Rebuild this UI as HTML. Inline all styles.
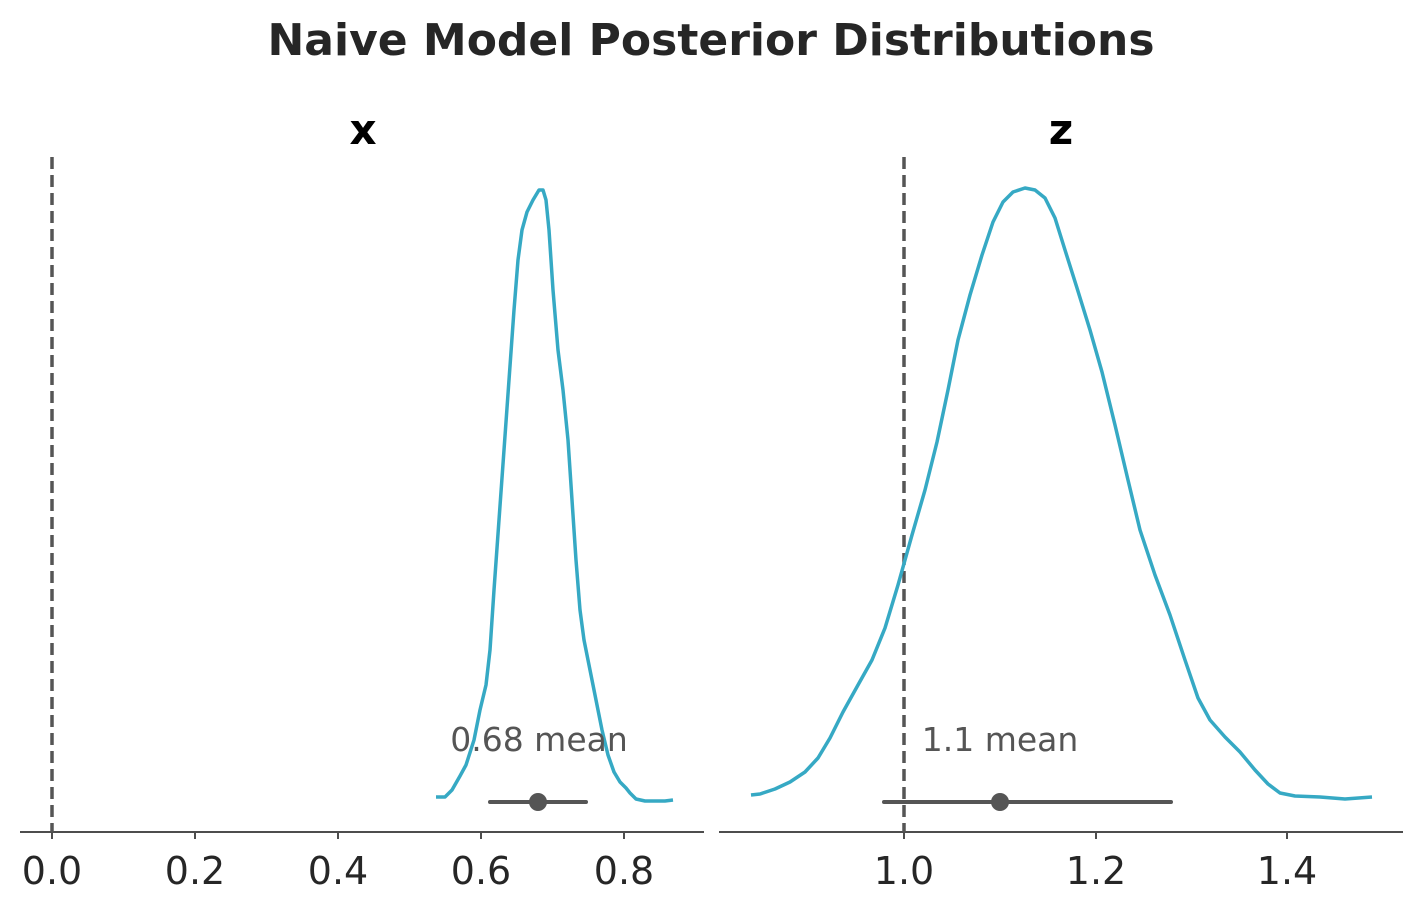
<!DOCTYPE html>
<html><head><meta charset="utf-8"><style>
html,body{margin:0;padding:0;background:#fff;}
svg{display:block;}
text{font-family:"DejaVu Sans","Liberation Sans",sans-serif;}
</style></head><body>
<svg width="1423" height="911" viewBox="0 0 1423 911" xmlns="http://www.w3.org/2000/svg">
<text x="711" y="55" text-anchor="middle" font-size="44" font-weight="bold" fill="#262626">Naive Model Posterior Distributions</text>
<text x="363" y="144" text-anchor="middle" font-size="42" font-weight="bold" fill="#000">x</text>
<text x="1061" y="144" text-anchor="middle" font-size="42" font-weight="bold" fill="#000">z</text>

<line x1="20" y1="832" x2="704" y2="832" stroke="#4d4d4d" stroke-width="2"/>
<line x1="719" y1="832" x2="1403" y2="832" stroke="#4d4d4d" stroke-width="2"/>

<line x1="52" y1="157" x2="52" y2="832" stroke="#555" stroke-width="3.5" stroke-dasharray="12,6"/>
<line x1="904" y1="157" x2="904" y2="832" stroke="#555" stroke-width="3.5" stroke-dasharray="12,6"/>

<polyline fill="none" stroke="#36a9c4" stroke-width="3.5" stroke-linejoin="round" points="436,797 445,797 452,790 460,776 466,765 474,740 480,710 486,685 490,650 494,590 499,520 504,450 509,380 514,310 518,260 522,230 527,212 533,200 539,190 543,190 546,200 549,230 553,290 558,350 563,390 568,440 572,500 576,560 580,610 584,640 590,670 596,700 602,730 608,755 614,772 620,782 626,788 630,793 636,799 645,801 655,801 665,801 673,800"/>
<polyline fill="none" stroke="#36a9c4" stroke-width="3.5" stroke-linejoin="round" points="751,795 760,794 775,789 790,782 805,772 818,758 830,738 843,712 858,685 872,660 885,628 898,585 912,535 925,490 937,442 948,390 958,340 970,295 982,255 993,222 1003,202 1013,192 1025,188 1035,190 1045,198 1055,218 1065,250 1077,288 1090,330 1102,372 1115,425 1128,480 1140,530 1155,575 1170,615 1185,660 1198,698 1210,720 1225,737 1240,752 1255,770 1268,784 1280,793 1295,796 1320,797 1345,799 1372,797"/>

<line x1="490" y1="802" x2="586" y2="802" stroke="#555" stroke-width="4" stroke-linecap="round"/>
<circle cx="538" cy="802" r="9" fill="#555"/>
<line x1="884" y1="802" x2="1171" y2="802" stroke="#555" stroke-width="4" stroke-linecap="round"/>
<circle cx="1000" cy="802" r="9" fill="#555"/>
<text x="539" y="751" text-anchor="middle" font-size="33" fill="#555">0.68 mean</text>
<text x="1000" y="751" text-anchor="middle" font-size="33" fill="#555">1.1 mean</text>

<g font-size="38" fill="#262626" text-anchor="middle">
<text x="52" y="884">0.0</text>
<text x="195" y="884">0.2</text>
<text x="338" y="884">0.4</text>
<text x="481" y="884">0.6</text>
<text x="624" y="884">0.8</text>
<text x="904" y="884">1.0</text>
<text x="1096" y="884">1.2</text>
<text x="1287" y="884">1.4</text>
</g>
<g stroke="#4d4d4d" stroke-width="2">
<line x1="52" y1="832" x2="52" y2="839"/><line x1="195" y1="832" x2="195" y2="839"/><line x1="338" y1="832" x2="338" y2="839"/><line x1="481" y1="832" x2="481" y2="839"/><line x1="624" y1="832" x2="624" y2="839"/>
<line x1="904" y1="832" x2="904" y2="839"/><line x1="1096" y1="832" x2="1096" y2="839"/><line x1="1287" y1="832" x2="1287" y2="839"/>
</g>
</svg>
</body></html>
